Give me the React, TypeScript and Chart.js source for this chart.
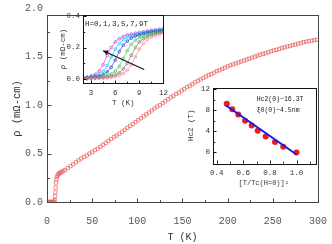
import React, { useEffect, useRef } from 'react';
import { Chart, registerables } from 'chart.js';
Chart.register(...registerables);

const MONO = '"Liberation Mono", "DejaVu Sans Mono", monospace';

// ---------- main panel data ----------
const mainTemps = [0,1,2,3,4,5,6,7,8,8.5,9,9.3,9.6,10,10.5,11,12,13,14,15,16,18,20,23,26,29,32,35,38,41,44,47,50,53,56,59,62,65,68,71,74,77,80,83,86,89,92,95,98,101,104,107,110,113,116,119,122,125,128,131,134,137,140,143,146,149,152,155,158,161,164,167,170,173,176,179,182,185,188,191,194,197,200,203,206,209,212,215,218,221,224,227,230,233,236,239,242,245,248,251,254,257,260,263,266,269,272,275,278,281,284,287,290,293,296,299];
const mainRho = [0,0,0,0,0,0,0,0,0.005,0.02,0.06,0.1,0.15,0.2,0.235,0.26,0.28,0.29,0.3,0.305,0.31,0.32,0.33,0.35,0.37,0.39,0.41,0.43,0.45,0.465,0.48,0.5,0.515,0.535,0.55,0.57,0.59,0.61,0.63,0.65,0.67,0.685,0.705,0.725,0.745,0.765,0.785,0.805,0.825,0.845,0.865,0.885,0.905,0.925,0.945,0.965,0.985,1.0,1.02,1.04,1.06,1.08,1.095,1.115,1.13,1.15,1.165,1.185,1.2,1.215,1.235,1.25,1.265,1.28,1.295,1.31,1.32,1.335,1.35,1.36,1.375,1.385,1.4,1.41,1.42,1.43,1.44,1.45,1.46,1.47,1.48,1.49,1.5,1.51,1.52,1.53,1.535,1.545,1.555,1.565,1.57,1.58,1.59,1.595,1.605,1.61,1.62,1.625,1.635,1.64,1.65,1.655,1.66,1.665,1.67,1.675];
const mainXTicks = [0,50,100,150,200,250,300];
const mainXMinor = [25,75,125,175,225,275];
const mainYTicks = [0,0.5,1.0,1.5,2.0];
const mainYMinor = [0.25,0.75,1.25,1.75];

// ---------- inset 1 (low-T transitions) ----------
const insetTemps = [2,2.5,3,3.5,4,4.5,5,5.5,6,6.5,7,7.5,8,8.5,9,9.5,10,10.5,11,11.5,12];
const rhoH0 = [0.002,0.002,0.003,0.004,0.005,0.006,0.008,0.011,0.015,0.022,0.035,0.055,0.09,0.14,0.19,0.225,0.25,0.265,0.275,0.283,0.29];
const rhoH1 = [0.002,0.003,0.004,0.005,0.007,0.009,0.013,0.018,0.026,0.04,0.065,0.1,0.15,0.2,0.235,0.255,0.27,0.28,0.287,0.293,0.298];
const rhoH3 = [0.003,0.004,0.006,0.008,0.011,0.015,0.022,0.032,0.05,0.08,0.13,0.18,0.22,0.245,0.262,0.273,0.282,0.289,0.295,0.3,0.305];
const rhoH5 = [0.005,0.007,0.01,0.013,0.018,0.028,0.045,0.075,0.12,0.175,0.215,0.24,0.26,0.272,0.28,0.287,0.293,0.298,0.302,0.306,0.31];
const rhoH7 = [0.008,0.01,0.015,0.02,0.03,0.05,0.085,0.14,0.19,0.225,0.25,0.265,0.275,0.283,0.29,0.295,0.3,0.305,0.308,0.312,0.315];
const rhoH9 = [0.01,0.012,0.02,0.03,0.05,0.09,0.15,0.2,0.235,0.255,0.27,0.28,0.285,0.29,0.295,0.3,0.305,0.31,0.312,0.316,0.32];
const insetSeries = [rhoH0, rhoH1, rhoH3, rhoH5, rhoH7, rhoH9];
const insetColors = ['rgba(240,130,150,0.9)','rgba(110,110,110,0.9)','rgba(40,200,40,0.9)','rgba(40,40,220,0.9)','rgba(0,200,230,0.9)','rgba(230,50,230,0.9)'];
const insetLegend = 'H=0,1,3,5,7,9T';
const insetXTicks = [3,6,9,12];
const insetXMinor = [4.5,7.5,10.5];
const insetYTicks = [0,0.2,0.4];
const insetYMinor = [0.1,0.3];
const arrowStart = [9.6, 0.06];
const arrowEnd = [4.5, 0.18];

// ---------- inset 2 (Hc2 vs reduced T) ----------
const tRatio = [0.475,0.517,0.562,0.613,0.663,0.708,0.768,0.838,0.9,1.0];
const hc2 = [9.2,8.2,7.2,6.0,5.1,4.1,3.0,2.0,1.1,0.0];
const fitX = [0.47,1.0];
const fitY = [8.9,-0.4];
const hc2XTicks = [0.4,0.6,0.8,1.0];
const hc2XMinor = [0.5,0.7,0.9,1.1];
const hc2YTicks = [0,4,8,12];
const hc2YMinor = [2,6,10];

function framePlugin(id: string, color: string, len: number, xMaj: number[], xMin: number[], yMaj: number[], yMin: number[], extra?: (c: any) => void) {
  return {
    id,
    afterDraw(chart: any) {
      const { ctx, chartArea: a, scales } = chart;
      const x = scales.x, y = scales.y;
      ctx.save();
      ctx.strokeStyle = color;
      ctx.lineWidth = 1;
      ctx.strokeRect(Math.round(a.left) + 0.5, Math.round(a.top) + 0.5, Math.round(a.right - a.left), Math.round(a.bottom - a.top));
      ctx.beginPath();
      const b = Math.round(a.bottom) + 0.5, l = Math.round(a.left) + 0.5;
      xMaj.forEach(v => { const p = Math.round(x.getPixelForValue(v)) + 0.5; ctx.moveTo(p, b); ctx.lineTo(p, b - len); });
      xMin.forEach(v => { const p = Math.round(x.getPixelForValue(v)) + 0.5; ctx.moveTo(p, b); ctx.lineTo(p, b - len * 0.6); });
      yMaj.forEach(v => { const p = Math.round(y.getPixelForValue(v)) + 0.5; if (p < a.top) return; ctx.moveTo(l, p); ctx.lineTo(l + len, p); });
      yMin.forEach(v => { const p = Math.round(y.getPixelForValue(v)) + 0.5; ctx.moveTo(l, p); ctx.lineTo(l + len * 0.6, p); });
      ctx.stroke();
      ctx.restore();
      if (extra) extra(chart);
    },
  };
}

function fixedTicks(list: number[]) {
  return (s: any) => { s.ticks = list.map(v => ({ value: v })); };
}

export default function App() {
  const mainRef = useRef<HTMLCanvasElement>(null);
  const in1Ref = useRef<HTMLCanvasElement>(null);
  const in2Ref = useRef<HTMLCanvasElement>(null);

  useEffect(() => {
    const charts: Chart[] = [];

    // main chart
    charts.push(new Chart(mainRef.current!, {
      type: 'scatter',
      data: {
        datasets: [{
          data: mainTemps.map((t, i) => ({ x: t, y: mainRho[i] })),
          pointStyle: 'rect',
          pointRadius: 2.3,
          borderWidth: 0.8,
          borderColor: 'rgba(235,90,90,0.85)',
          backgroundColor: 'rgba(0,0,0,0)',
          showLine: false,
        }],
      },
      options: {
        animation: false,
        responsive: false,
        maintainAspectRatio: false,
        layout: { padding: { top: 15, right: 13, left: 0, bottom: 0 } },
        plugins: { legend: { display: false }, tooltip: { enabled: false } },
        scales: {
          x: {
            type: 'linear', min: 0, max: 300,
            afterBuildTicks: fixedTicks(mainXTicks),
            afterFit: (s: any) => { s.height = 42; },
            grid: { display: false }, border: { display: false },
            ticks: { autoSkip: false, maxRotation: 0, padding: 5, color: '#555', font: { family: MONO, size: 10 } },
            title: { display: true, text: 'T (K)', color: '#333', font: { family: MONO, size: 10 }, padding: { top: 0, bottom: 1 } },
          },
          y: {
            type: 'linear', min: 0, max: 1.93,
            afterBuildTicks: fixedTicks(mainYTicks),
            afterFit: (s: any) => { s.width = 47; },
            grid: { display: false, tickLength: 0 }, border: { display: false },
            ticks: { autoSkip: false, padding: 4, color: '#555', font: { family: MONO, size: 10 }, callback: (v: any) => Number(v).toFixed(1) },
            title: { display: true, text: 'ρ (mΩ-cm)', color: '#333', font: { family: MONO, size: 10.5 }, padding: { top: 10.7, bottom: 0 } },
          },
        },
      },
      plugins: [framePlugin('mainFrame', '#444', 4, mainXTicks, mainXMinor, mainYTicks, mainYMinor)],
    } as any));

    // inset 1
    charts.push(new Chart(in1Ref.current!, {
      type: 'scatter',
      data: {
        datasets: insetSeries.map((s, k) => ({
          data: insetTemps.map((t, i) => ({ x: t, y: s[i] })),
          pointStyle: 'circle',
          pointRadius: 1.4,
          borderWidth: 0.7,
          borderColor: insetColors[k],
          backgroundColor: 'rgba(0,0,0,0)',
          showLine: true,
        })),
      },
      options: {
        animation: false,
        responsive: false,
        maintainAspectRatio: false,
        layout: { padding: { top: 10, right: 0, left: 0, bottom: 0 } },
        plugins: { legend: { display: false }, tooltip: { enabled: false } },
        scales: {
          x: {
            type: 'linear', min: 2, max: 12,
            afterBuildTicks: fixedTicks(insetXTicks),
            afterFit: (s: any) => { s.height = 27; },
            grid: { display: false, tickLength: 2 }, border: { display: false },
            ticks: { autoSkip: false, maxRotation: 0, padding: 4, color: '#333', font: { family: MONO, size: 7.5 } },
            title: { display: true, text: 'T (K)', color: '#333', font: { family: MONO, size: 7.5 }, padding: { top: 0, bottom: 2.5 } },
          },
          y: {
            type: 'linear', min: -0.025, max: 0.406,
            afterBuildTicks: fixedTicks(insetYTicks),
            afterFit: (s: any) => { s.width = 28; },
            grid: { display: false, tickLength: 0 }, border: { display: false },
            ticks: { autoSkip: false, padding: 3, color: '#333', font: { family: MONO, size: 7.5 }, callback: (v: any) => Number(v).toFixed(1) },
            title: { display: true, text: 'ρ (mΩ-cm)', color: '#333', font: { family: MONO, size: 7.5 }, padding: { top: 3.5, bottom: 0 } },
          },
        },
      },
      plugins: [framePlugin('in1Frame', '#111', 3, insetXTicks, insetXMinor, insetYTicks, insetYMinor, (chart: any) => {
        const { ctx, scales: { x, y } } = chart;
        ctx.save();
        ctx.fillStyle = '#222';
        ctx.font = `7.5px ${MONO}`;
        ctx.textAlign = 'left';
        ctx.textBaseline = 'middle';
        ctx.fillText(insetLegend, chart.chartArea.left + 2, chart.chartArea.top + 9);
        const x0 = x.getPixelForValue(arrowStart[0]), y0 = y.getPixelForValue(arrowStart[1]);
        const x1 = x.getPixelForValue(arrowEnd[0]), y1 = y.getPixelForValue(arrowEnd[1]);
        ctx.strokeStyle = '#111';
        ctx.fillStyle = '#111';
        ctx.lineWidth = 1.1;
        ctx.beginPath(); ctx.moveTo(x0, y0); ctx.lineTo(x1, y1); ctx.stroke();
        const ang = Math.atan2(y1 - y0, x1 - x0);
        const hl = 5, hw = 2.5;
        ctx.beginPath();
        ctx.moveTo(x1, y1);
        ctx.lineTo(x1 - hl * Math.cos(ang) + hw * Math.sin(ang), y1 - hl * Math.sin(ang) - hw * Math.cos(ang));
        ctx.lineTo(x1 - hl * Math.cos(ang) - hw * Math.sin(ang), y1 - hl * Math.sin(ang) + hw * Math.cos(ang));
        ctx.closePath(); ctx.fill();
        ctx.restore();
      })],
    } as any));

    // inset 2
    charts.push(new Chart(in2Ref.current!, {
      type: 'scatter',
      data: {
        datasets: [
          {
            data: fitX.map((v, i) => ({ x: v, y: fitY[i] })),
            showLine: true,
            borderColor: '#1a1ae6',
            borderWidth: 2,
            pointRadius: 0,
          },
          {
            data: tRatio.map((v, i) => ({ x: v, y: hc2[i] })),
            showLine: false,
            pointStyle: 'circle',
            pointRadius: 3,
            borderWidth: 0,
            backgroundColor: '#ec1c1c',
          },
        ],
      },
      options: {
        animation: false,
        responsive: false,
        maintainAspectRatio: false,
        layout: { padding: { top: 7.5, right: 5, left: 0, bottom: 0 } },
        plugins: { legend: { display: false }, tooltip: { enabled: false } },
        scales: {
          x: {
            type: 'linear', min: 0.368, max: 1.139,
            afterBuildTicks: fixedTicks(hc2XTicks),
            afterFit: (s: any) => { s.height = 27; },
            grid: { display: false, tickLength: 2 }, border: { display: false },
            ticks: { autoSkip: false, maxRotation: 0, padding: 4, color: '#333', font: { family: MONO, size: 7.5 }, callback: (v: any) => Number(v).toFixed(1) },
            title: { display: true, text: '[T/Tc(H=0)]²', color: '#333', font: { family: MONO, size: 7 }, padding: { top: 0, bottom: 3 } },
          },
          y: {
            type: 'linear', min: -2.0, max: 12.3,
            afterBuildTicks: fixedTicks(hc2YTicks),
            afterFit: (s: any) => { s.width = 32.5; },
            grid: { display: false, tickLength: 0 }, border: { display: false },
            ticks: { autoSkip: false, padding: 2.5, color: '#333', font: { family: MONO, size: 7.5 } },
            title: { display: true, text: 'Hc2 (T)', color: '#333', font: { family: MONO, size: 7.5 }, padding: { top: 6.5, bottom: 0 } },
          },
        },
      },
      plugins: [framePlugin('in2Frame', '#111', 3, hc2XTicks, hc2XMinor, hc2YTicks, hc2YMinor, (chart: any) => {
        const { ctx, scales: { x, y } } = chart;
        ctx.save();
        ctx.fillStyle = '#222';
        ctx.font = `6.5px ${MONO}`;
        ctx.textAlign = 'left';
        ctx.textBaseline = 'middle';
        const tx = x.getPixelForValue(0.7);
        ctx.fillText('Hc2(0)~16.3T', tx, y.getPixelForValue(10.1));
        ctx.fillText('ξ0(0)~4.5nm', tx, y.getPixelForValue(8.0));
        ctx.restore();
      })],
    } as any));

    return () => { charts.forEach(c => c.destroy()); };
  }, []);

  return (
    <div style={{ position: 'fixed', left: 0, top: 0, width: 332, height: 244, background: '#fff' }}>
      <canvas ref={mainRef} width={332} height={244} style={{ position: 'absolute', left: 0, top: 0 }} />
      <canvas ref={in1Ref} width={117} height={105} style={{ position: 'absolute', left: 55, top: 5 }} />
      <canvas ref={in2Ref} width={140} height={110} style={{ position: 'absolute', left: 180, top: 80 }} />
    </div>
  );
}
